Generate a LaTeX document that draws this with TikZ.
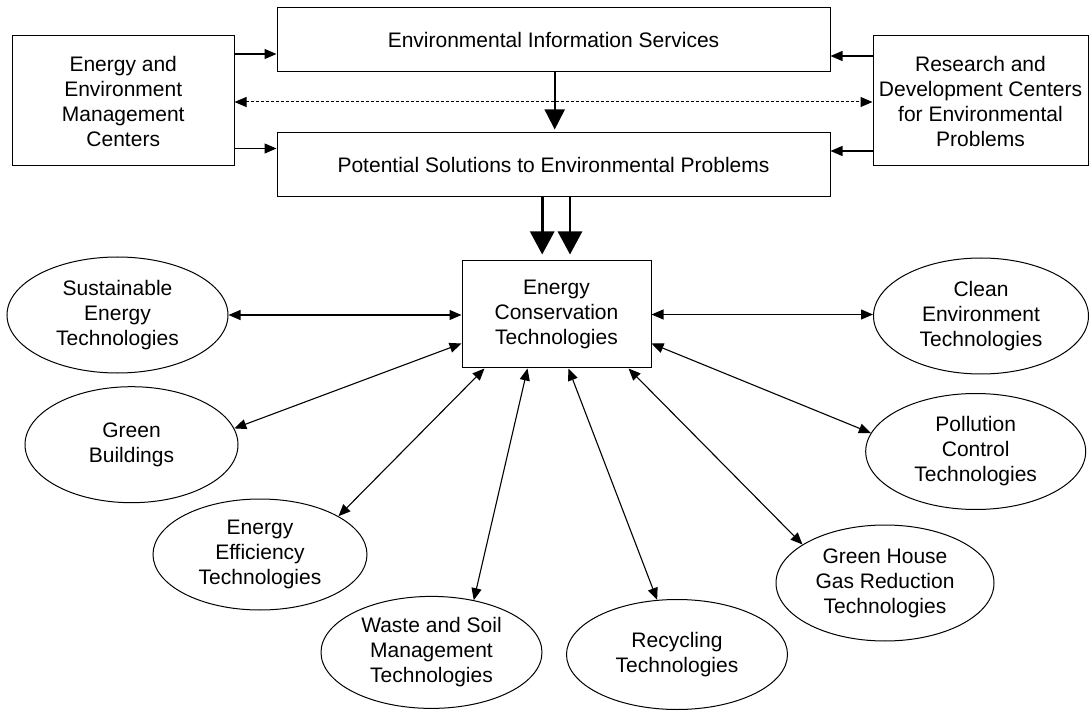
\documentclass[tikz,border=0pt]{standalone}
\usepackage{fontspec}
\setmainfont{Liberation Sans}
\usetikzlibrary{arrows.meta,shapes.geometric,calc}
\begin{document}
\begin{tikzpicture}[x=1pt,y=-1pt,
  every node/.style={font=\fontsize{21}{25}\selectfont, align=center, inner sep=0pt},
  boxnode/.style={draw, rectangle, line width=1pt},
  ellnode/.style={draw, ellipse, line width=1pt},
  conn/.style={line width=1.2pt, -{Triangle[length=12pt,width=10pt]}},
  biconn/.style={line width=1.1pt, {Triangle[length=12pt,width=10pt]}-{Triangle[length=12pt,width=10pt]}},
  dashconn/.style={line width=1pt, dash pattern=on 3pt off 2pt, {Triangle[length=12pt,width=10pt]}-{Triangle[length=12pt,width=10pt]}},
  bigconn/.style={line width=2pt, -{Triangle[length=20pt,width=20pt]}},
  hugeconn/.style={line width=2.7pt, -{Triangle[length=23pt,width=24pt]}}
]
\useasboundingbox (0,0) rectangle (1090,711);

% boxes
\node[boxnode, minimum width=221.5pt, minimum height=130pt] (eemc) at (123.25,101) {Energy and\\Environment\\Management\\Centers};
\node[boxnode, minimum width=553pt, minimum height=64pt] (eis) at (553.5,40) {Environmental Information Services};
\node[boxnode, minimum width=553pt, minimum height=63.5pt] (psep) at (553.5,164.75) {Potential Solutions to Environmental Problems};
\node[boxnode, minimum width=215pt, minimum height=130pt] (rd) at (980.5,101) {Research and\\Development Centers\\for Environmental\\Problems};
\node[boxnode, minimum width=189pt, minimum height=107pt] (ect) at (556.5,314.5) {Energy\\Conservation\\Technologies};

% ellipses
\node[ellnode, minimum width=221pt, minimum height=116pt] (sust) at (117.5,315) {Sustainable\\Energy\\Technologies};
\node[ellnode, minimum width=215pt, minimum height=116pt] (clean) at (981,316) {Clean\\Environment\\Technologies};
\node[ellnode, minimum width=213pt, minimum height=116pt] (gb) at (131.5,444.7) {Green\\Buildings};
\node[ellnode, minimum width=214pt, minimum height=111pt] (ee) at (260,554.5) {Energy\\Efficiency\\Technologies};
\node[ellnode, minimum width=221pt, minimum height=112pt] (waste) at (431.5,652.4) {Waste and Soil\\Management\\Technologies};
\node[ellnode, minimum width=221pt, minimum height=110pt] (rec) at (677,654.5) {Recycling\\Technologies};
\node[ellnode, minimum width=218pt, minimum height=116pt] (gh) at (885,583) {Green House\\Gas Reduction\\Technologies};
\node[ellnode, minimum width=220pt, minimum height=116pt] (pol) at (975.7,451.5) {Pollution\\Control\\Technologies};

% top connectors
\draw[conn] (eemc.east |- 0,54) -- (eis.west |- 0,54);
\draw[conn] (eemc.east |- 0,148.5) -- (psep.west |- 0,148.5);
\draw[conn] (rd.west |- 0,56) -- (eis.east |- 0,56);
\draw[conn] (rd.west |- 0,151) -- (psep.east |- 0,151);
\draw[dashconn] (eemc.east |- 0,102) -- (rd.west |- 0,102);
\draw[bigconn] ($(eis.south)+(1.2,0)$) -- ($(psep.north)+(1.2,-3)$);
\draw[hugeconn] ($(psep.south)+(-11.3,0)$) -- ($(ect.north)+(-14.3,-6)$);
\draw[hugeconn] ($(psep.south)+(16.5,0)$) -- ($(ect.north)+(13.5,-6)$);

% technology connectors
\draw[biconn] (sust.east) -- (sust.east -| ect.west);
\draw[biconn] (ect.east) -- (ect.east -| clean.west);
\draw[biconn] (gb.9) -- ($(ect.west)+(0,29)$);
\draw[biconn] (ee.26) -- ($(ect.south west)+(23,0)$);
\draw[biconn] (waste.51) -- ($(ect.south west)+(66,0)$);
\draw[biconn] (rec.110) -- ($(ect.south west)+(107,0)$);
\draw[biconn] (gh.155) -- ($(ect.south west)+(167,0)$);
\draw[biconn] (pol.170) -- ($(ect.east)+(0,29)$);
\end{tikzpicture}
\end{document}
